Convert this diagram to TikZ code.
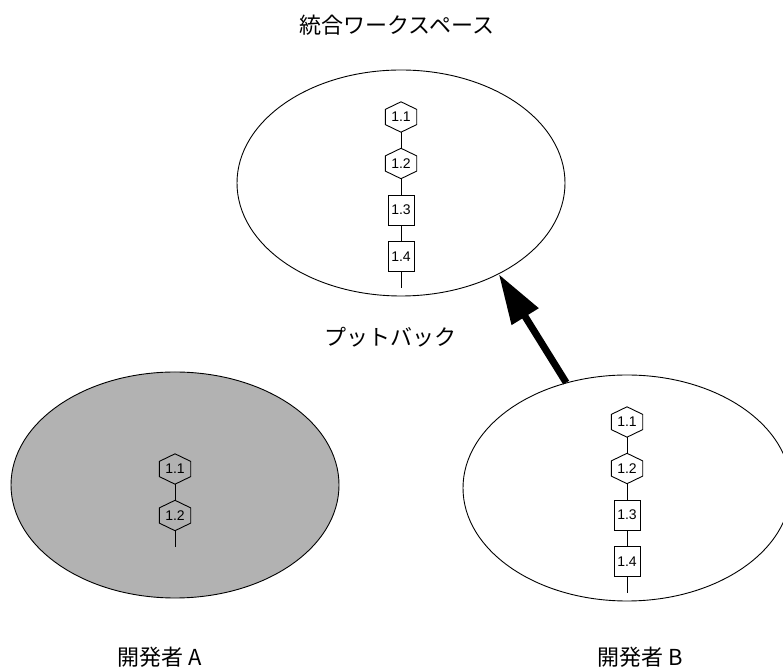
\documentclass[tikz,border=0pt]{standalone}
\usepackage{fontspec}
\setmainfont{Liberation Sans}
\newfontfamily\jpfont{Noto Sans CJK JP}
\usepackage{tikz}
\usetikzlibrary{shapes.geometric,arrows.meta,positioning,calc}
\tikzset{
    space/.style = {ellipse, draw=black, line width=0.9pt, minimum width=328pt, minimum height=226pt, inner sep=0pt},
    hexa/.style = {rectangle, minimum width=31pt, minimum height=30pt, inner sep=0pt, font=\fontsize{14}{16}\selectfont},
    version/.style = {rectangle, draw=black, line width=0.9pt, fill=white, minimum width=26pt, minimum height=30pt, inner sep=0pt, font=\fontsize{14}{16}\selectfont},
    label/.style = {font=\jpfont\fontsize{22}{26}\selectfont}
}

\begin{document}
\begin{tikzpicture}[
    x=1pt, y=1pt,
    node distance=46.5pt,
    chain/.style={line width=0.9pt}
]
    \useasboundingbox (0,0) rectangle (783,671);

    % workspaces
    \node [space] (ws) at (401,488) {};
    \node [space, fill=black!30] (devA) at (175,186) {};
    \node [space] (devB) at (627,183) {};

    % integration workspace
    \node [hexa] (w1) at (401,554) {1.1};
    \node [hexa, below of=w1] (w2) {1.2};
    \node [version, below of=w2] (w3) {1.3};
    \node [version, below of=w3] (w4) {1.4};
    \coordinate [below=16pt of w4] (w5);

    % developer A
    \node [hexa] (a1) at (175,202) {1.1};
    \node [hexa, below of=a1] (a2) {1.2};
    \coordinate [below=16pt of a2] (a3);

    % developer B
    \node [hexa] (b1) at (627,249) {1.1};
    \node [hexa, below of=b1] (b2) {1.2};
    \node [version, below of=b2] (b3) {1.3};
    \node [version, below of=b3] (b4) {1.4};
    \coordinate [below=16pt of b4] (b5);

    \foreach \n in {w1,w2,a1,a2,b1,b2}
        \draw [chain] (\n.north) -- ($(\n.north east)!.25!(\n.south east)$) -- ($(\n.north east)!.75!(\n.south east)$)
            -- (\n.south) -- ($(\n.north west)!.75!(\n.south west)$) -- ($(\n.north west)!.25!(\n.south west)$) -- cycle;

    \draw [chain] (w1) -- (w2) -- (w3) -- (w4) -- (w5);
    \draw [chain] (a1) -- (a2) -- (a3);
    \draw [chain] (b1) -- (b2) -- (b3) -- (b4) -- (b5);

    % labels
    \node [label] (wsname) at (397,646) {統合ワークスペース};
    \node [label] (putback) at (390,334) {プットバック};
    \node [label] (devAname) at (160,14) {開発者 A};
    \node [label] (devBname) at (640,14) {開発者 B};

    \draw [line width=7pt, -{Triangle[length=50pt, width=30pt]}] (devB.120) -- (ws.-43.5);
\end{tikzpicture}
\end{document}
